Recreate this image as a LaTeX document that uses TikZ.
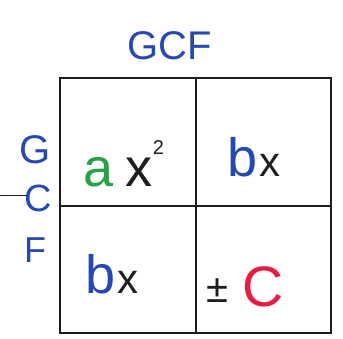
\documentclass[tikz,border=0pt]{standalone}
\usepackage{fontspec}
\setmainfont{Liberation Sans}
\usetikzlibrary{positioning}
\definecolor{TintaAzul}{RGB}{38,72,178}
\definecolor{TintaVerde}{RGB}{40,160,70}
\definecolor{TintaRoja}{RGB}{232,28,64}
\definecolor{TintaNegra}{RGB}{30,30,30}
\newcommand{\equis}{{\fontsize{42}{42}\selectfont x}}
\tikzset{
  rotulo/.style={text=TintaAzul, font=\fontsize{40}{40}\selectfont, inner sep=0pt},
  termino/.style={text=TintaNegra, font=\fontsize{54}{54}\selectfont, inner sep=0pt, anchor=base},
  rejilla/.style={draw=TintaNegra, line width=1.4pt},
  trazo/.style={draw=TintaNegra, line width=0.8pt},
}

\begin{document}
\begin{tikzpicture}[x=1pt,y=-1pt]
  \useasboundingbox (0,0) rectangle (343,339);
  % ---- rejilla 2x2 ----
  \draw[rejilla] (60,78) rectangle (331,333);
  \draw[rejilla] (196,78) -- (196,333);
  \draw[rejilla] (60,206) -- (331,206);

  % ---- rotulos GCF ----
  \node[rotulo] (titulo) at (170,46) {GCF};
  \node[rotulo] (letraG) at (35,150) {G};
  \node[rotulo, font=\fontsize{38}{38}\selectfont] (letraC) at (38,198) {C};
  \node[rotulo, font=\fontsize{36}{36}\selectfont] (letraF) at (35,250) {F};
  \coordinate (borde) at (0,195);
  \draw[trazo] (borde) -- ([xshift=3pt]letraC.west |- borde);

  % ---- terminos ----
  \node[termino] (cuadrado) at (124,187)
    {{\color{TintaVerde}a}\hspace{12pt}x\raisebox{0.6em}{\fontsize{20}{20}\selectfont 2}};
  \node[termino] (linealA) at (254,177) {{\color{TintaAzul}b}\hspace{2pt}\equis};
  \node[termino] (linealB) at (112,294) {{\color{TintaAzul}b}\hspace{2pt}\equis};
  \node[termino] (constante) at (245,307)
    {{\fontsize{40}{40}\selectfont\raisebox{4pt}{±}}\hspace{14pt}{\fontsize{57}{57}\selectfont\color{TintaRoja}C}};
\end{tikzpicture}
\end{document}
